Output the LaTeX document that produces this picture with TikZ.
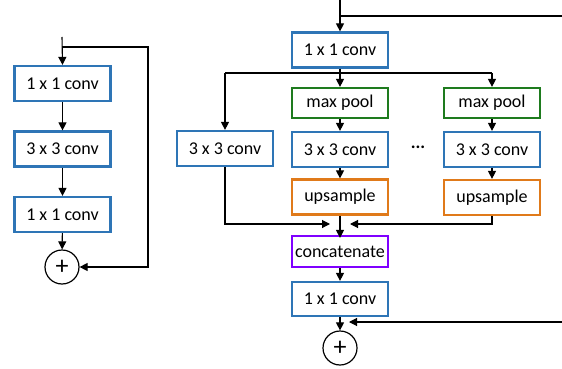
\documentclass[tikz,border=0pt]{standalone}
\usepackage{fontspec}
\setmainfont{Carlito}
\usetikzlibrary{arrows.meta}
\definecolor{cblue}{HTML}{2E75B6}
\definecolor{cgreen}{HTML}{1E7B1E}
\definecolor{corange}{HTML}{E07A1A}
\definecolor{cpurple}{HTML}{7F00FF}
\tikzset{
  box/.style={draw=#1, line width=2.2pt, fill=white, minimum width=96pt, minimum height=35pt, inner sep=0pt,
    font=\fontsize{18}{20}\selectfont},
  sumnode/.style={draw, circle, line width=1.2pt, minimum size=34pt, inner sep=0pt, font=\fontsize{26}{28}\selectfont},
  conn/.style={line width=1.1pt},
  arr/.style={line width=1.1pt, -{Triangle[length=8pt,width=8pt]}}
}
\begin{document}
\begin{tikzpicture}[x=1pt,y=-1pt]
\useasboundingbox (0,0) rectangle (562,369);
% left block
\node[box=cblue] (L1) at (62.5,83.5) {1 x 1 conv};
\node[box=cblue] (L2) at (62.5,149) {3 x 3 conv};
\node[box=cblue] (L3) at (62.5,214.5) {1 x 1 conv};
\node[sumnode] (Lp) at (62,267) {+};
\coordinate (Lin) at (62,37);
\coordinate (Lsk) at (62,47);
\coordinate (Lc1) at (148,47);
\coordinate (Lc2) at (148,267);
\draw[arr] (Lin) -- (L1.north);
\draw[arr] (L1) -- (L2);
\draw[arr] (L2) -- (L3);
\draw[arr] (L3) -- (Lp);
\draw[arr] (Lsk) -- (Lc1) -- (Lc2) -- (Lp.east);
% right block
\node[box=cblue] (R1) at (340,50) {1 x 1 conv};
\node[box=cgreen, minimum height=30pt] (MP1) at (340,103) {max pool};
\node[box=cblue] (C1) at (340,149.5) {3 x 3 conv};
\node[box=corange] (U1) at (340,197) {upsample};
\node[box=cblue] (A) at (225,148.5) {3 x 3 conv};
\node[box=cgreen, minimum height=30pt] (MP2) at (492,103) {max pool};
\node[box=cblue] (C2) at (492,149.5) {3 x 3 conv};
\node[box=corange] (U2) at (492,197.5) {upsample};
\node[font=\fontsize{18}{20}\selectfont] (dots) at (418,147) {\textbf{...}};
\node[box=cpurple, minimum height=31pt] (Cat) at (340,251.5) {concatenate};
\node[box=cblue, minimum height=34pt] (R5) at (340,299) {1 x 1 conv};
\node[sumnode] (Rp) at (340,348) {+};
\coordinate (Rin) at (340,0);
\coordinate (Rsk) at (340,16);
\coordinate (Rout) at (562,16);
\coordinate (Rback) at (562,322);
\coordinate (Rbackend) at (349,322);
\coordinate (Sp) at (340,73);
\coordinate (SpL) at (225,73);
\coordinate (SpR) at (492,73);
\coordinate (ML) at (225,224);
\coordinate (MLend) at (330,224);
\coordinate (MR) at (492,224);
\coordinate (MRend) at (350,224);
\draw[arr] (Rin) -- (R1.north);
\draw[conn] (Rsk) -- (Rout);
\draw[conn] (SpL) -- (SpR);
\draw[arr] (R1.south) -- (MP1.north);
\draw[arr] (SpL) -- (A.north);
\draw[arr] (SpR) -- (MP2.north);
\draw[arr] (MP1) -- (C1);
\draw[arr] (C1) -- (U1);
\draw[arr] (MP2) -- (C2);
\draw[arr] (C2) -- (U2);
\draw[arr] (A.south) -- (ML) -- (MLend);
\draw[arr] (U2.south) -- (MR) -- (MRend);
\draw[arr] (U1.south) -- ([yshift=-3pt]Cat.north);
\draw[arr] (Cat) -- (R5);
\draw[arr] (R5) -- (Rp);
\draw[arr] (Rback) -- (Rbackend);
\end{tikzpicture}
\end{document}
